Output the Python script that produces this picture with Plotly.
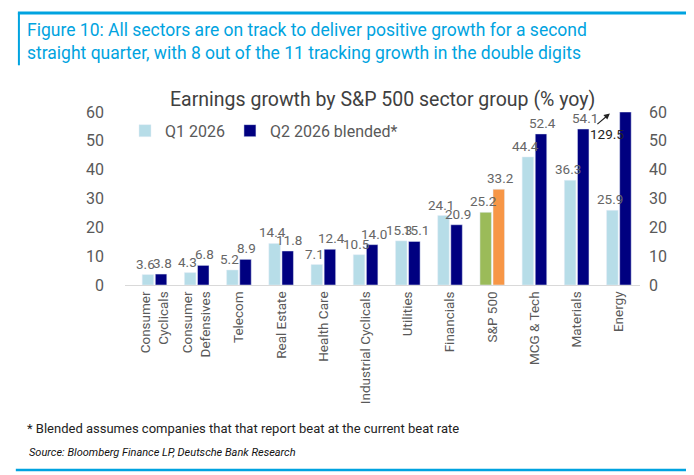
import plotly.graph_objects as go

categories = ["Consumer<br>Cyclicals", "Consumer<br>Defensives", "Telecom", "Real Estate", "Health Care",
              "Industrial Cyclicals", "Utilities", "Financials", "S&P 500", "MCG & Tech", "Materials", "Energy"]
q1 = [3.6, 4.3, 5.2, 14.4, 7.1, 10.5, 15.3, 24.1, 25.2, 44.4, 36.3, 25.9]
q2 = [3.8, 6.8, 8.9, 11.8, 12.4, 14.0, 15.1, 20.9, 33.2, 52.4, 54.1, 129.5]
ymax = 60

q1_colors = ["#B7DDE8"] * len(categories)
q2_colors = ["#000080"] * len(categories)
sp = categories.index("S&P 500")
q1_colors[sp] = "#9BBB59"
q2_colors[sp] = "#F79646"

q2_draw = [min(v, ymax) for v in q2]

fig = go.Figure()
fig.add_bar(x=categories, y=q1, name="Q1 2026", marker_color=q1_colors)
fig.add_bar(x=categories, y=q2_draw, name="Q2 2026 blended*", marker_color=q2_colors)
fig.add_scatter(x=[categories[0]], y=[None], yaxis="y2", showlegend=False, hoverinfo="skip")

lab = dict(color="#666666", size=13.5)
for c, a, b in zip(categories, q1, q2):
    fig.add_annotation(x=c, y=a, text=f"{a:.1f}", showarrow=False, yanchor="bottom", xshift=-9, yshift=1, font=lab)
    if b <= ymax:
        fig.add_annotation(x=c, y=b, text=f"{b:.1f}", showarrow=False, yanchor="bottom", xshift=8, yshift=1, font=lab)

ei = categories.index("Energy")
fig.add_annotation(x=categories[ei], y=52.5, text=f"{q2[ei]:.1f}", showarrow=False,
                   xshift=-12, font=dict(color="#222222", size=13.5))
fig.add_annotation(x=categories[ei], y=59.5, ax=-14, ay=12, xshift=-9, text="", showarrow=True,
                   arrowhead=2, arrowsize=1, arrowwidth=1.2, arrowcolor="#222222")

fig.add_annotation(xref="paper", yref="paper", x=0.5, y=1.15, text="Earnings growth by S&P 500 sector group (% yoy)",
                   showarrow=False, font=dict(size=19.5, color="#404040"))

# header / footer (paper coords: y = (277 - py)/173, x = (px - 117)/515)
fig.add_shape(type="line", xref="paper", yref="paper", x0=-0.208, x1=1.12, y0=1.572, y1=1.572,
              line=dict(color="#00A3E0", width=3))
fig.add_shape(type="line", xref="paper", yref="paper", x0=-0.206, x1=-0.206, y0=1.572, y1=1.27,
              line=dict(color="#00A3E0", width=2))
fig.add_annotation(xref="paper", yref="paper", x=-0.195, y=1.545, xanchor="left", yanchor="top", align="left",
                   text="Figure 10: All sectors are on track to deliver positive growth for a second<br>straight quarter, with 8 out of the 11 tracking growth in the double digits",
                   showarrow=False, font=dict(size=17.5, color="#00A3E0"))
fig.add_annotation(xref="paper", yref="paper", x=-0.195, y=-0.884, xanchor="left", showarrow=False,
                   text="* Blended assumes companies that that report beat at the current beat rate",
                   font=dict(size=13, color="#222222"))
fig.add_annotation(xref="paper", yref="paper", x=-0.19, y=-1.02, xanchor="left", showarrow=False,
                   text="<i>Source: Bloomberg Finance LP, Deutsche Bank Research</i>",
                   font=dict(size=11, color="#111111"))
fig.add_shape(type="line", xref="paper", yref="paper", x0=-0.212, x1=1.093, y0=-1.069, y1=-1.069,
              line=dict(color="#00A3E0", width=2.5))
fig.add_shape(type="line", xref="paper", yref="paper", x0=1.093, x1=1.093, y0=-1.069, y1=-0.94,
              line=dict(color="#00A3E0", width=2))

fig.update_layout(
    width=694, height=475, margin=dict(l=117, r=62, t=104, b=198),
    plot_bgcolor="white", paper_bgcolor="white", barmode="group", bargap=0.38, bargroupgap=0.12,
    font=dict(family="Roboto, Arial", color="#595959"),
    legend=dict(orientation="h", x=0.0, y=0.99, xanchor="left", yanchor="top", font=dict(size=16, color="#595959"),
                bgcolor="rgba(0,0,0,0)", itemwidth=30, traceorder="normal"),
    xaxis=dict(tickangle=-90, tickfont=dict(size=13.5, color="#595959"), showline=True, linecolor="#D9D9D9",
               ticks="", automargin=False),
    yaxis=dict(range=[0, ymax], dtick=10, showgrid=False, tickfont=dict(size=16, color="#595959"), zeroline=False,
               ticklen=0, ticklabelstandoff=20, automargin=False),
    yaxis2=dict(range=[0, ymax], dtick=10, overlaying="y", side="right", showgrid=False,
                tickfont=dict(size=16, color="#595959"), zeroline=False, automargin=False, ticklabelstandoff=8),
    showlegend=True,
)
fig.write_html("out.html")
